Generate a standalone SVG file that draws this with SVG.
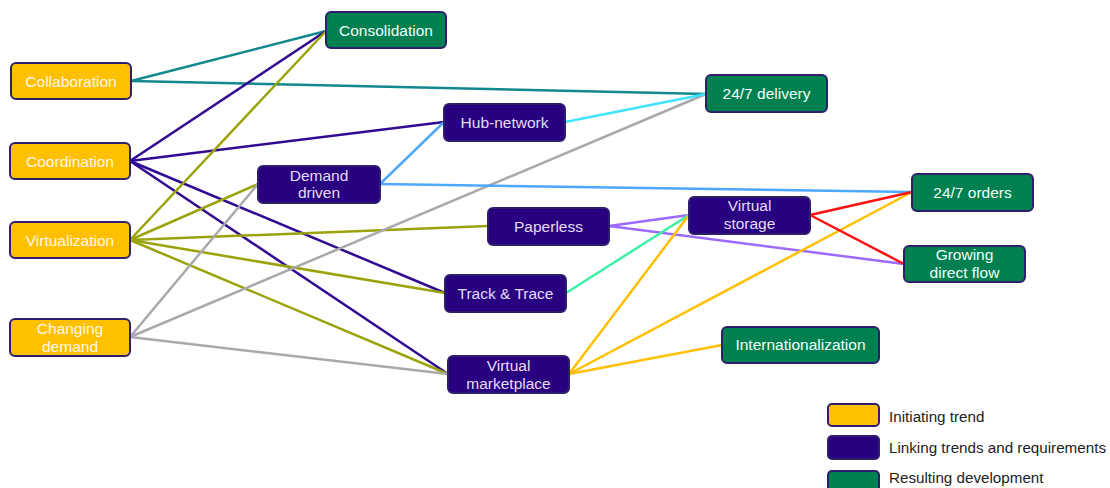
<svg xmlns="http://www.w3.org/2000/svg" width="1110" height="488" viewBox="0 0 1110 488">
<style>
.n rect{stroke:#2E1F6B;stroke-width:2}
.o rect{fill:#FFC000}
.p rect{fill:#290080}
.g rect{fill:#008050}
.n text{font-family:"Liberation Sans",Arial,sans-serif;font-size:15.5px;text-anchor:middle}
.o text{fill:#FFF8E8}
.p text{fill:#E4DDF6}
.g text{fill:#F2FFF8}
#edges line{stroke-width:2.5;fill:none}
.lg{font-family:"Liberation Sans",Arial,sans-serif;font-size:15.2px;fill:#222}
</style>
<rect width="1110" height="488" fill="#fff"/>
<g id="edges">
<line x1="131" y1="81" x2="326" y2="31" stroke="#12888F"/>
<line x1="131" y1="81" x2="706" y2="94" stroke="#12888F"/>
<line x1="130" y1="161" x2="326" y2="31" stroke="#300A90"/>
<line x1="130" y1="161" x2="444" y2="122" stroke="#300A90"/>
<line x1="130" y1="161" x2="445" y2="293" stroke="#300A90"/>
<line x1="130" y1="161" x2="448" y2="374" stroke="#300A90"/>
<line x1="130" y1="240" x2="326" y2="31" stroke="#9AA30A"/>
<line x1="130" y1="240" x2="258" y2="184" stroke="#9AA30A"/>
<line x1="130" y1="240" x2="488" y2="226" stroke="#9AA30A"/>
<line x1="130" y1="240" x2="445" y2="293" stroke="#9AA30A"/>
<line x1="130" y1="240" x2="448" y2="374" stroke="#9AA30A"/>
<line x1="130" y1="337" x2="258" y2="184" stroke="#A9A9A9"/>
<line x1="130" y1="337" x2="706" y2="94" stroke="#A9A9A9"/>
<line x1="130" y1="337" x2="448" y2="374" stroke="#A9A9A9"/>
<line x1="380" y1="184" x2="444" y2="122" stroke="#4DA8FF"/>
<line x1="380" y1="184" x2="912" y2="192" stroke="#4DA8FF"/>
<line x1="565" y1="122" x2="706" y2="94" stroke="#40E4FF"/>
<line x1="609" y1="226" x2="689" y2="215" stroke="#9B6BFF"/>
<line x1="609" y1="226" x2="904" y2="264" stroke="#9B6BFF"/>
<line x1="566" y1="293" x2="689" y2="215" stroke="#3CF0A8"/>
<line x1="569" y1="374" x2="689" y2="215" stroke="#FFC000"/>
<line x1="569" y1="374" x2="912" y2="192" stroke="#FFC000"/>
<line x1="569" y1="374" x2="722" y2="345" stroke="#FFC000"/>
<line x1="810" y1="215" x2="912" y2="192" stroke="#FF1010"/>
<line x1="810" y1="215" x2="904" y2="264" stroke="#FF1010"/>
</g>
<g id="consolidation" class="n g"><rect x="326" y="12" width="120" height="36" rx="5"/><text x="386" y="35.5">Consolidation</text></g>
<g id="collaboration" class="n o"><rect x="11" y="63" width="120" height="36" rx="5"/><text x="71" y="86.5">Collaboration</text></g>
<g id="coordination" class="n o"><rect x="10" y="143" width="120" height="36" rx="5"/><text x="70" y="166.5">Coordination</text></g>
<g id="virtualization" class="n o"><rect x="10" y="222" width="120" height="36" rx="5"/><text x="70" y="245.5">Virtualization</text></g>
<g id="changing-demand" class="n o"><rect x="10" y="319" width="120" height="37" rx="5"/><text x="70" y="334">Changing</text><text x="70" y="352">demand</text></g>
<g id="demand-driven" class="n p"><rect x="258" y="166" width="122" height="37" rx="5"/><text x="319" y="181">Demand</text><text x="319" y="198">driven</text></g>
<g id="hub-network" class="n p"><rect x="444" y="104" width="121" height="37" rx="5"/><text x="504.5" y="128">Hub-network</text></g>
<g id="paperless" class="n p"><rect x="488" y="208" width="121" height="37" rx="5"/><text x="548.5" y="232">Paperless</text></g>
<g id="track-trace" class="n p"><rect x="445" y="275" width="121" height="37" rx="5"/><text x="505.5" y="299">Track &amp; Trace</text></g>
<g id="virtual-marketplace" class="n p"><rect x="448" y="356" width="121" height="37" rx="5"/><text x="508.5" y="371">Virtual</text><text x="508.5" y="389">marketplace</text></g>
<g id="virtual-storage" class="n p"><rect x="689" y="197" width="121" height="37" rx="5"/><text x="749.5" y="211">Virtual</text><text x="749.5" y="229">storage</text></g>
<g id="delivery" class="n g"><rect x="706" y="75" width="121" height="37" rx="5"/><text x="766.5" y="99">24/7 delivery</text></g>
<g id="orders" class="n g"><rect x="912" y="174" width="121" height="37" rx="5"/><text x="972.5" y="198">24/7 orders</text></g>
<g id="growing-direct-flow" class="n g"><rect x="904" y="246" width="121" height="36" rx="5"/><text x="964.5" y="260">Growing</text><text x="964.5" y="278">direct flow</text></g>
<g id="internationalization" class="n g"><rect x="722" y="327" width="157" height="36" rx="5"/><text x="800.5" y="350">Internationalization</text></g>
<g id="legend">
<g class="n o"><rect x="828" y="404" width="51" height="22" rx="4"/></g>
<text class="lg" x="889" y="422">Initiating trend</text>
<g class="n p"><rect x="828" y="436" width="51" height="23" rx="4"/></g>
<text class="lg" x="889" y="453">Linking trends and requirements</text>
<g class="n g"><rect x="828" y="471" width="51" height="24" rx="4"/></g>
<text class="lg" x="889" y="483">Resulting development</text>
</g>
</svg>
